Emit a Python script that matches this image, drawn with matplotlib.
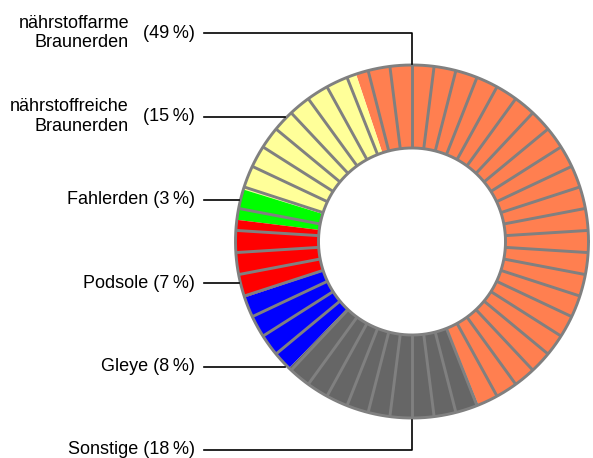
import matplotlib.pyplot as plt
import numpy as np

plt.rcParams['font.family'] = ['Liberation Sans', 'DejaVu Sans']

# soil types, in drawing order (counter-clockwise)
names = ["nährstoffarme\nBraunerden", "nährstoffreiche\nBraunerden",
         "Fahlerden", "Podsole", "Gleye", "Sonstige"]
percentLabels = [49, 15, 3, 7, 8, 18]
shares = [49.0, 15.1, 2.8, 7.1, 7.6, 18.4]
colors = ["#ff7f50", "#ffff99", "#00ff00", "#ff0000", "#0000ff", "#666666"]

W, H = 593, 458
cx, cy = 412, H - 241.5
rOut, rIn = 176.5, 93.5

fig = plt.figure(figsize=(W / 100, H / 100), dpi=100)
ax = fig.add_axes([0, 0, 1, 1])

ax.pie(shares, colors=colors, startangle=-67.9, counterclock=True,
       center=(cx, cy), radius=rOut,
       wedgeprops=dict(width=rOut - rIn, linewidth=0))

# 50 radial divider lines and the ring borders
for k in range(50):
    a = np.radians(90 - k * 7.2)
    ax.plot([cx + rIn * np.cos(a), cx + rOut * np.cos(a)],
            [cy + rIn * np.sin(a), cy + rOut * np.sin(a)],
            color="#808080", lw=2.1, solid_capstyle="butt")
t = np.linspace(0, 2 * np.pi, 400)
ax.plot(cx + rOut * np.cos(t), cy + rOut * np.sin(t), color="#808080", lw=2.1)
ax.plot(cx + rIn * np.cos(t), cy + rIn * np.sin(t), color="#808080", lw=2.1)

# labels with leader lines
labelY = [33, 116.5, 200, 283.3, 366.7, 450]
edge = rOut + 1.5
fs = 13
for i, name in enumerate(names):
    y = H - labelY[i]
    pct = "(%d\u2009%%)" % percentLabels[i]
    if "\n" in name:
        ax.text(129, y, name, ha="right", va="center", fontsize=fs,
                linespacing=1.18)
        ax.text(195, y, pct, ha="right", va="center", fontsize=fs)
    else:
        ax.text(195, y, name + " " + pct, ha="right", va="center", fontsize=fs)

    if i == 0:
        ax.plot([204, cx, cx], [y, y, cy + edge], color="black", lw=1.2)
    elif i == len(names) - 1:
        ax.plot([204, cx, cx], [y, y, cy - edge], color="black", lw=1.2)
    else:
        dy = y - cy
        x = cx - np.sqrt(edge ** 2 - dy ** 2)
        ax.plot([204, x], [y, y], color="black", lw=1.2)

ax.set_xlim(0, W)
ax.set_ylim(0, H)
ax.axis("off")

fig.savefig("out.png", dpi=100)
